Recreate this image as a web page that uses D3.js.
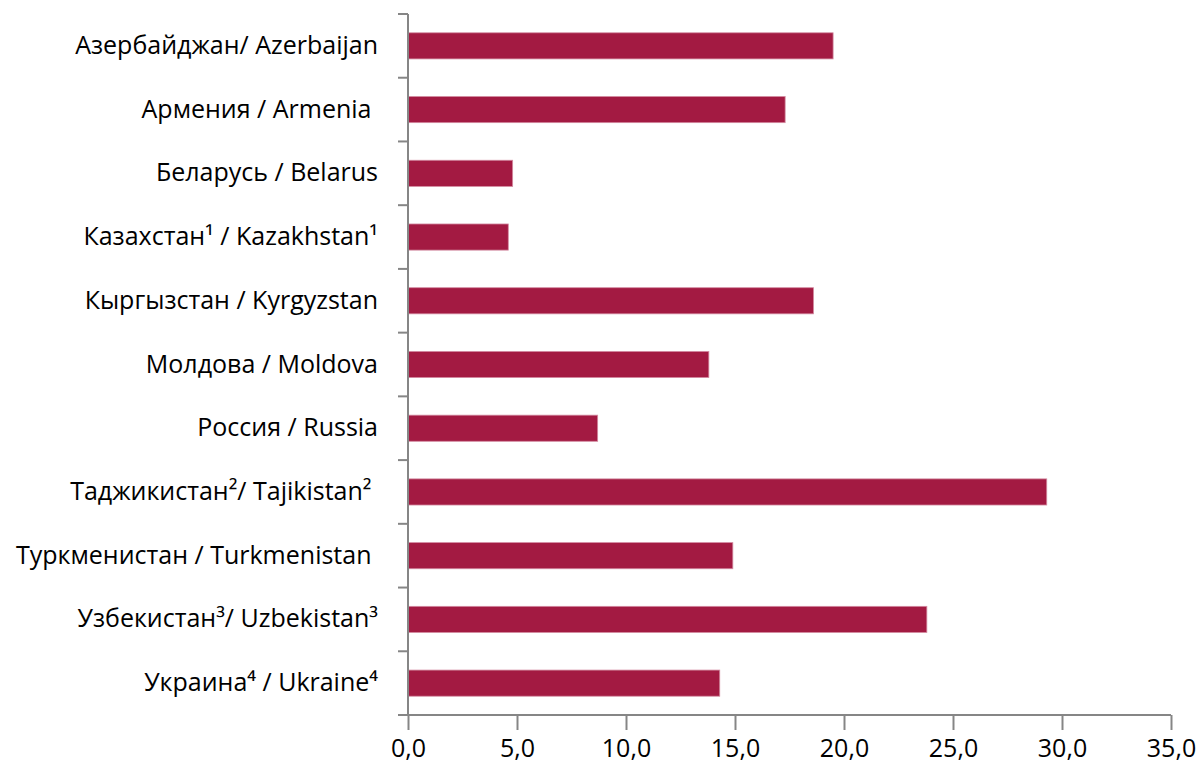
<!DOCTYPE html>
<html>
<head>
<meta charset="utf-8">
<script src="https://cdn.jsdelivr.net/npm/d3@7"></script>
<style>
    body { margin: 0; background: #fff; }
    svg text { font-family: "Open Sans", "Noto Sans", sans-serif; fill: #000; }
</style>
</head>
<body>
<svg id="chart" width="1201" height="764"></svg>
<script>
// categories, top to bottom
var countries = [
    "Азербайджан/ Azerbaijan",
    "Армения / Armenia ",
    "Беларусь / Belarus",
    "Казахстан¹ / Kazakhstan¹",
    "Кыргызстан / Kyrgyzstan",
    "Молдова / Moldova",
    "Россия / Russia",
    "Таджикистан²/ Tajikistan² ",
    "Туркменистан / Turkmenistan ",
    "Узбекистан³/ Uzbekistan³",
    "Украина⁴ / Ukraine⁴"
];
var values = [19.5, 17.3, 4.8, 4.6, 18.6, 13.8, 8.7, 29.3, 14.9, 23.8, 14.3];
var xTicks = [0, 5, 10, 15, 20, 25, 30, 35];

var margin = {top: 14, right: 30, bottom: 49, left: 408};
var svg = d3.select("#chart");
var W = +svg.attr("width"), H = +svg.attr("height");

var x = d3.scaleLinear().domain([0, 35]).range([margin.left, W - margin.right]);
var y = d3.scaleBand().domain(countries)
    .range([margin.top, H - margin.bottom])
    .paddingInner(0.59).paddingOuter(0.295);

var axisColor = "#868686";

// bars
svg.append("g").selectAll("rect")
    .data(values)
    .enter().append("rect")
    .attr("x", x(0))
    .attr("y", function (d, i) { return y(countries[i]); })
    .attr("width", function (d) { return x(d) - x(0); })
    .attr("height", y.bandwidth())
    .attr("fill", "#a31a42")
    .attr("stroke", "#d38aa0")
    .attr("stroke-width", 0.8);

// x axis
var fmt = function (d) { return d3.format(".1f")(d).replace(".", ","); };
var gx = svg.append("g")
    .attr("transform", "translate(0," + (H - margin.bottom) + ")")
    .call(d3.axisBottom(x).tickValues(xTicks).tickFormat(fmt).tickSize(15).tickSizeOuter(0).tickPadding(9));
gx.select(".domain").attr("stroke", axisColor).attr("stroke-width", 2)
    .attr("d", "M" + (x(0) - 10) + ",0H" + x(35));
gx.selectAll(".tick line").attr("stroke", axisColor).attr("stroke-width", 2);
gx.selectAll(".tick text").style("font-size", "25px");

// y axis - labels at band centres, ticks at band edges (excel style)
var gy = svg.append("g")
    .attr("transform", "translate(" + x(0) + ",0)")
    .call(d3.axisLeft(y).tickSize(0).tickPadding(30));
gy.select(".domain").attr("stroke", axisColor).attr("stroke-width", 2)
    .attr("d", "M0," + margin.top + "V" + (H - margin.bottom));
gy.selectAll(".tick text").style("font-size", "25px").attr("xml:space", "preserve");

var edges = d3.range(countries.length + 1).map(function (i) {
    return y.range()[0] + i * y.step();
});
gy.selectAll(".edge")
    .data(edges)
    .enter().append("line")
    .attr("class", "edge")
    .attr("x1", -10).attr("x2", 0)
    .attr("y1", function (d) { return d; })
    .attr("y2", function (d) { return d; })
    .attr("stroke", axisColor).attr("stroke-width", 2);
</script>
</body>
</html>
